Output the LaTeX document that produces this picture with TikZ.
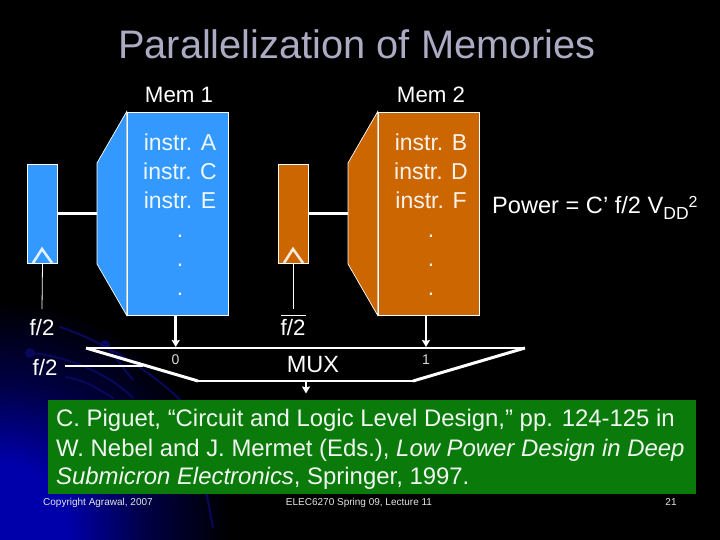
\documentclass[tikz,border=0pt]{standalone}
\usepackage{fontspec}
\setmainfont{Liberation Sans}
\usetikzlibrary{arrows.meta}
\definecolor{memblue}{HTML}{3399FF}
\definecolor{memorange}{HTML}{CC6600}
\definecolor{citegreen}{HTML}{0A7A0A}
\definecolor{titlegrey}{HTML}{ABABC4}
\definecolor{deepblue}{HTML}{0000AA}
\definecolor{strandblue}{HTML}{08085C}
\pgfdeclareradialshading{cornerglow}{\pgfpoint{0pt}{0pt}}{
  color(0pt)=(deepblue);
  color(7pt)=(deepblue);
  color(15pt)=(deepblue!42!black);
  color(24pt)=(black);
  color(50pt)=(black)}
\tikzset{
  lab/.style={inner sep=0pt,text=white,font=\fontsize{22.3}{26}\selectfont,anchor=base},
  memtext/.style={inner sep=0pt,text=#1,font=\fontsize{23}{26}\selectfont,anchor=base},
  regbox/.style={draw=white,line width=0.7pt,minimum width=30pt,minimum height=99pt,inner sep=0pt,fill=#1},
  membox/.style={draw=white,line width=0.7pt,minimum width=101pt,minimum height=203pt,inner sep=0pt,fill=#1},
  flare/.style={draw=white,line width=0.7pt,fill=#1},
  thickwire/.style={white,line width=3.6pt},
  thinwire/.style={white,line width=0.8pt},
  datawire/.style={white,line width=2.6pt,-{Stealth[length=7pt,width=8pt,inset=1pt]}},
  clockmark/.style={white!85!#1,line width=2.6pt},
  foot/.style={inner sep=0pt,text=white!90!black,font=\fontsize{10}{12}\selectfont,anchor=base},
  strand/.style={strandblue,line width=2pt,line cap=round}
}
\begin{document}
\begin{tikzpicture}[x=1pt,y=-1pt]
\useasboundingbox (0,0) rectangle (720,540);
\begin{scope}
\clip (0,0) rectangle (720,540);
\fill[black] (0,0) rectangle (720,540);
\shade[shading=cornerglow] (-240,290) rectangle (240,770);
\draw[strand] (60,327) .. controls (100,340) and (150,370) .. (180,400) .. controls (200,440) and (205,490) .. (213,527);
\draw[strand] (30,353) .. controls (60,355) and (105,370) .. (133,398);
\draw[strand] (66,377) .. controls (85,380) and (100,390) .. (113,398);
\draw[strand] (105,345) .. controls (115,355) and (120,365) .. (133,380);
\fill[strandblue] (30,353) circle (5);
\fill[strandblue] (105,345) circle (5);
\end{scope}

\node[inner sep=0pt,text=titlegrey,font=\fontsize{39.8}{44}\selectfont,anchor=base] (title) at (357,59) {Parallelization of Memories};

% Mem 1
\node[lab] (m1lab) at (179,103) {Mem 1};
\node[regbox=memblue] (reg1) at (42.5,213.5) {};
\node[membox=memblue] (mem1) at (177.5,213.5) {};
\coordinate (fl1) at (97,213.5);
\draw[flare=memblue] (mem1.north west) -- (97,163) -- (97,264) -- (mem1.south west) -- cycle;
\draw[thickwire] (reg1.east) -- (fl1);
\draw[clockmark=memblue] (33,263) -- (42,249) -- (52,263);
\node[lab] (f1) at (42,335) {f/2};
\coordinate (ck1) at (42,309);
\draw[thinwire] (reg1.south) -- (ck1);
\foreach \n/\t/\y in {a/instr. A/151,c/instr. C/180,e/instr. E/208,d1/./237,d2/./266,d3/./295}
  \node[memtext=white!92!memblue] (t\n) at (180,\y) {\t};

% Mem 2
\node[lab] (m2lab) at (431,103) {Mem 2};
\node[regbox=memorange] (reg2) at (293,213.5) {};
\node[membox=memorange] (mem2) at (428.5,213.5) {};
\coordinate (fl2) at (348,213.5);
\draw[flare=memorange] (mem2.north west) -- (348,163) -- (348,264) -- (mem2.south west) -- cycle;
\draw[thickwire] (reg2.east) -- (fl2);
\draw[clockmark=memorange] (284,263) -- (293,249) -- (303,263);
\node[lab] (f2) at (293,335) {f/2};
\coordinate (ck2) at (293,309);
\draw[thinwire] (reg2.south) -- (ck2);
\coordinate (barl) at (280.5,315);
\coordinate (barr) at (305.5,315);
\draw[thinwire] (barl) -- (barr);
\foreach \n/\t/\y in {b/instr. B/151,dd/instr. D/180,f/instr. F/208,e1/./237,e2/./266,e3/./295}
  \node[memtext=white!92!memorange] (t\n) at (431,\y) {\t};

% MUX
\coordinate (mtl) at (86,348);
\coordinate (mtr) at (525,348);
\coordinate (mbl) at (198,381);
\coordinate (mbr) at (413,381);
\draw[white,line width=2.4pt] (mtl) -- (mtr);
\draw[white,line width=2.4pt] (mbl) -- (mbr);
\draw[white,line width=3pt] (mtl) -- (mbl);
\draw[white,line width=3pt] (mtr) -- (mbr);
\coordinate (in0) at (175.7,347);
\coordinate (in1) at (426,347);
\draw[datawire] (mem1.south -| in0) -- (in0);
\draw[datawire] (mem2.south -| in1) -- (in1);
\node[inner sep=0pt,text=white!85!black,font=\fontsize{14}{16}\selectfont,anchor=base] (zero) at (175.5,364) {0};
\node[inner sep=0pt,text=white!85!black,font=\fontsize{14}{16}\selectfont,anchor=base] (one) at (426,364) {1};
\node[lab,font=\fontsize{23.5}{26}\selectfont] (mux) at (313,372) {MUX};
\node[lab] (sel) at (45,375) {f/2};
\coordinate (selend) at (143,366);
\draw[white,line width=2.6pt] (65,366) -- (selend);
\coordinate (outtop) at (306,381);
\coordinate (outbot) at (306,393.5);
\draw[datawire] (outtop) -- (outbot);

% Power
\node[inner sep=0pt,text=white,font=\fontsize{23.6}{26}\selectfont,anchor=base west] (power) at (492,214) {Power = C’ f/2 V\raisebox{-6pt}{\fontsize{17.5}{20}\selectfont DD}\raisebox{6pt}{\fontsize{16}{18}\selectfont 2}};

% Citation
\node[fill=citegreen,minimum width=648pt,minimum height=94pt,inner sep=0pt,anchor=north west] (cite) at (48,400) {};
\foreach \n/\y/\t in {l1/426.5/{C. Piguet, “Circuit and Logic Level Design,” pp. 124-125 in},
 l2/456/{W. Nebel and J. Mermet (Eds.), \textit{Low Power Design in Deep}},
 l3/484.5/{\textit{Submicron Electronics}, Springer, 1997.}}
  \node[inner sep=0pt,text=white!94!citegreen,font=\fontsize{23.9}{26}\selectfont,anchor=base west] (\n) at (56,\y) {\t};

% Footer
\node[foot,anchor=base west] (fc) at (43,505) {Copyright Agrawal, 2007};
\node[foot] (fm) at (359,505) {ELEC6270 Spring 09, Lecture 11};
\node[foot] (fp) at (671,505) {21};
\end{tikzpicture}
\end{document}
